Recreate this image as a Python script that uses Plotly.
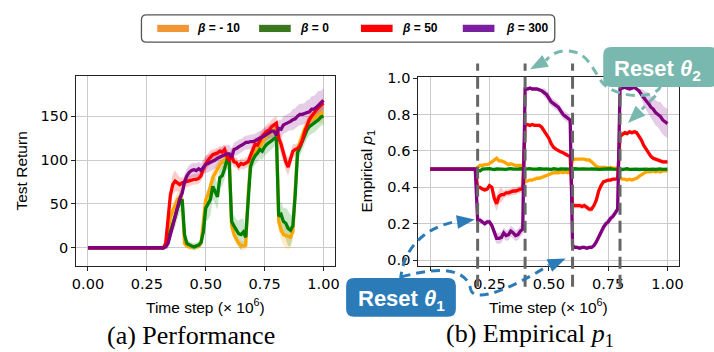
import plotly.graph_objects as go

# ---------------- data ----------------
steps = [i / 100 for i in range(101)]
tick_vals = [0.0, 0.25, 0.5, 0.75, 1.0]
tick_text = ["0.00", "0.25", "0.50", "0.75", "1.00"]
ret_ticks = [0, 50, 100, 150]
p_ticks = [0.0, 0.2, 0.4, 0.6, 0.8, 1.0]
p_tick_text = ["0.0", "0.2", "0.4", "0.6", "0.8", "1.0"]
reset_steps = [0.2, 0.4, 0.6, 0.8]
labels = ["β = - 10", "β = 0", "β = 50", "β = 300"]

ret_orange = [0] * 30 + [
    0, 0, 0, 3, 20, 35, 42, 48, 55, 58,
    55, 5, 2, 1, 1, 1, 1, 2, 5, 30,
    55, 60, 70, 80, 85, 90, 95, 98, 100, 104,
    100, 25, 15, 10, 5, 3, 2, 3, 60, 95,
    105, 110, 112, 115, 120, 125, 128, 130, 132, 135,
    136, 30, 20, 15, 14, 12, 12, 18, 60, 112,
    120, 128, 135, 140, 144, 146, 148, 150, 152, 154,
    155]
ret_green = [0] * 30 + [
    0, 0, 0, 2, 10, 20, 28, 35, 45, 52,
    55, 15, 5, 3, 2, 1, 2, 3, 6, 18,
    45, 50, 55, 70, 65, 58, 80, 82, 90, 100,
    98, 30, 25, 20, 16, 15, 18, 12, 60, 92,
    100, 105, 108, 112, 110, 115, 118, 120, 122, 125,
    126, 36, 38, 30, 28, 22, 20, 25, 60, 108,
    115, 120, 128, 134, 138, 140, 141, 143, 146, 149,
    150]
ret_red = [0] * 30 + [
    0, 0, 0, 5, 35, 60, 72, 76, 74, 72,
    74, 75, 75, 76, 77, 78, 78, 79, 82, 90,
    96, 100, 103, 106, 107, 108, 110, 109, 112, 104,
    100, 105, 98, 97, 93, 96, 95, 97, 98, 105,
    112, 118, 117, 122, 127, 130, 133, 134, 138, 140,
    142, 125, 118, 108, 98, 92, 100, 110, 112, 113,
    116, 122, 132, 140, 146, 150, 154, 157, 160, 162,
    165]
ret_purple = [0] * 30 + [
    0, 0, 0, 1, 5, 15, 25, 35, 48, 56,
    62, 75, 82, 86, 88, 89, 88, 90, 88, 92,
    95, 96, 97, 99, 100, 102, 103, 105, 106, 107,
    107, 103, 112, 113, 115, 116, 118, 120, 120, 121,
    121, 122, 124, 125, 126, 128, 130, 132, 133, 133,
    128, 136, 135, 140, 141, 143, 144, 146, 147, 150,
    152, 152, 153, 154, 155, 158, 158, 160, 163, 165,
    168]

sd_orange = [0] * 30 + [
    0, 0, 0, 2, 6, 8, 8, 8, 8, 8,
    8, 4, 3, 3, 3, 3, 3, 3, 4, 8,
    8, 8, 8, 8, 8, 8, 8, 8, 8, 8,
    8, 6, 6, 6, 5, 5, 5, 5, 8, 8,
    8, 8, 8, 8, 8, 8, 8, 8, 8, 8,
    8, 10, 10, 12, 14, 14, 12, 10, 10, 8,
    8, 8, 8, 8, 8, 8, 8, 8, 10, 12,
    12]
sd_green = [0] * 30 + [
    0, 0, 0, 2, 8, 10, 10, 12, 12, 12,
    12, 6, 4, 4, 4, 4, 4, 4, 5, 10,
    15, 18, 18, 15, 15, 15, 12, 12, 12, 10,
    10, 10, 12, 12, 15, 18, 15, 10, 10, 10,
    10, 10, 10, 10, 10, 10, 10, 10, 10, 10,
    10, 12, 15, 15, 18, 20, 18, 12, 12, 10,
    10, 10, 10, 10, 10, 10, 10, 10, 10, 10,
    10]
sd_red = [0] * 30 + [
    0, 0, 0, 3, 8, 10, 12, 12, 10, 8,
    6, 6, 6, 6, 6, 6, 6, 6, 6, 8,
    8, 8, 8, 6, 6, 6, 6, 6, 6, 8,
    8, 8, 6, 6, 6, 6, 6, 6, 6, 8,
    8, 8, 8, 8, 8, 8, 8, 8, 8, 8,
    8, 10, 10, 10, 10, 10, 8, 8, 6, 6,
    6, 6, 6, 6, 6, 6, 6, 6, 6, 6,
    6]
sd_purple = [0] * 30 + [
    0, 0, 0, 2, 6, 8, 8, 8, 8, 8,
    8, 8, 8, 8, 8, 8, 8, 8, 8, 8,
    10, 10, 10, 10, 10, 10, 10, 10, 10, 10,
    10, 10, 8, 8, 8, 8, 8, 8, 8, 8,
    8, 8, 8, 8, 8, 8, 8, 8, 8, 8,
    8, 10, 10, 10, 10, 10, 10, 12, 12, 12,
    12, 12, 12, 14, 14, 15, 15, 16, 16, 14,
    14]

p_orange = [0.5] * 20 + [
    0.51, 0.52, 0.52, 0.525, 0.525, 0.53, 0.54, 0.55, 0.56, 0.545,
    0.545, 0.54, 0.53, 0.525, 0.53, 0.525, 0.52, 0.52, 0.52, 0.52,
    0.43, 0.435, 0.44, 0.44, 0.445, 0.45, 0.45, 0.455, 0.46, 0.465,
    0.47, 0.475, 0.48, 0.48, 0.48, 0.485, 0.48, 0.485, 0.48, 0.485,
    0.55, 0.555, 0.555, 0.555, 0.555, 0.555, 0.55, 0.55, 0.54, 0.525,
    0.515, 0.51, 0.51, 0.51, 0.51, 0.505, 0.51, 0.505, 0.505, 0.505,
    0.45, 0.445, 0.445, 0.44, 0.445, 0.44, 0.445, 0.45, 0.46, 0.47,
    0.48, 0.485, 0.485, 0.485, 0.49, 0.485, 0.49, 0.485, 0.49, 0.49,
    0.49]
p_green = [
    0.5, 0.501, 0.5, 0.499, 0.5, 0.5, 0.501, 0.5, 0.499, 0.5,
    0.5, 0.5, 0.501, 0.5, 0.5, 0.499, 0.5, 0.501, 0.5, 0.5,
    0.495, 0.49, 0.5, 0.502, 0.5, 0.503, 0.5, 0.498, 0.501, 0.5,
    0.502, 0.5, 0.499, 0.501, 0.503, 0.5, 0.498, 0.5, 0.502, 0.5,
    0.5, 0.501, 0.503, 0.5, 0.498, 0.5, 0.502, 0.499, 0.5, 0.501,
    0.5, 0.498, 0.502, 0.5, 0.499, 0.501, 0.5, 0.503, 0.5, 0.499,
    0.5, 0.502, 0.499, 0.5, 0.501, 0.5, 0.498, 0.5, 0.501, 0.502,
    0.5, 0.499, 0.5, 0.501, 0.498, 0.5, 0.502, 0.5, 0.499, 0.5,
    0.501, 0.498, 0.5, 0.502, 0.499, 0.5, 0.501, 0.5, 0.498, 0.5,
    0.502, 0.5, 0.499, 0.501, 0.5, 0.498, 0.5, 0.501, 0.499, 0.5,
    0.5]
p_red = [0.5] * 20 + [
    0.40, 0.40, 0.39, 0.385, 0.39, 0.41, 0.40, 0.34, 0.31, 0.35,
    0.36, 0.36, 0.37, 0.37, 0.375, 0.38, 0.38, 0.385, 0.39, 0.39,
    0.74, 0.745, 0.74, 0.745, 0.74, 0.74, 0.74, 0.73, 0.71, 0.69,
    0.67, 0.64, 0.62, 0.61, 0.60, 0.595, 0.59, 0.58, 0.575, 0.57,
    0.30, 0.30, 0.30, 0.30, 0.295, 0.30, 0.29, 0.28, 0.28, 0.30,
    0.33, 0.38, 0.41, 0.43, 0.435, 0.44, 0.44, 0.445, 0.445, 0.45,
    0.68, 0.69, 0.70, 0.695, 0.705, 0.70, 0.705, 0.70, 0.68, 0.66,
    0.63, 0.61, 0.59, 0.57, 0.56, 0.555, 0.55, 0.545, 0.54, 0.54,
    0.54]
p_purple = [
    0.5, 0.5, 0.499, 0.5, 0.501, 0.5, 0.5, 0.499, 0.5, 0.5,
    0.501, 0.5, 0.5, 0.499, 0.5, 0.5, 0.501, 0.5, 0.5, 0.5,
    0.22, 0.22, 0.21, 0.20, 0.21, 0.21, 0.19, 0.15, 0.12, 0.12,
    0.125, 0.15, 0.135, 0.14, 0.16, 0.15, 0.135, 0.14, 0.16, 0.17,
    0.94, 0.94, 0.945, 0.94, 0.94, 0.94, 0.935, 0.93, 0.92, 0.91,
    0.89, 0.87, 0.86, 0.85, 0.84, 0.82, 0.80, 0.79, 0.78, 0.77,
    0.08, 0.07, 0.07, 0.065, 0.07, 0.07, 0.065, 0.07, 0.07, 0.08,
    0.10, 0.13, 0.15, 0.18, 0.20, 0.21, 0.23, 0.24, 0.26, 0.28,
    0.94, 0.945, 0.95, 0.945, 0.94, 0.945, 0.95, 0.94, 0.93, 0.91,
    0.89, 0.875, 0.86, 0.84, 0.83, 0.81, 0.80, 0.79, 0.77, 0.76,
    0.75]

psd_orange = [0.003] * 20 + [0.008] * 20 + [0.006] * 20 + [0.006] * 20 + [0.006] * 21
psd_green = [0.002] * 20 + [0.004] * 81
psd_red = [0.003] * 20 + [0.01] * 7 + [0.04] * 4 + [0.02] * 9 + [0.01] * 20 + [0.015] * 9 + [0.01] * 11 + [0.012] * 21
psd_purple = ([0.004] * 20 + [0.015] * 7 + [0.03] * 13 + [0.008] * 8 + [0.025] * 12 + [0.01] * 10
              + [0.02] * 10 + [0.01] * 9 + [0.03, 0.04, 0.05, 0.06, 0.06, 0.07, 0.07, 0.07, 0.08, 0.08, 0.08, 0.08])

# ---------------- style ----------------
W, H = 714, 352
line_colors = ["#FFA500", "#008000", "#FF0000", "#800080"]
band_colors = ["rgba(255,165,0,0.22)", "rgba(0,128,0,0.2)", "rgba(255,0,0,0.2)", "rgba(128,0,128,0.2)"]
legend_colors = ["#F29535", "#3A771F", "#FF0000", "#7B1FA0"]
BLUE = "#2B7BB9"
TEAL = "#78B8AE"


def fx(x):
    return x / W


def fy(y):
    return 1 - y / H


def path(cmds):
    out = []
    for c in cmds:
        if isinstance(c, str):
            out.append(c)
        else:
            out.append(f"{fx(c[0]):.5f},{fy(c[1]):.5f}")
    return " ".join(out)


def arrow_head(tip, frm, length=18, half=7):
    dx, dy = tip[0] - frm[0], tip[1] - frm[1]
    n = (dx * dx + dy * dy) ** 0.5
    ux, uy = dx / n, dy / n
    bx, by = tip[0] - ux * length, tip[1] - uy * length
    p1 = (bx - uy * half, by + ux * half)
    p2 = (bx + uy * half, by - ux * half)
    return path(["M", tip, "L", p1, "L", p2, "Z"])


def rounded(x0, y0, x1, y1, r):
    return path(["M", (x0 + r, y0), "L", (x1 - r, y0), "Q", (x1, y0), (x1, y0 + r),
                 "L", (x1, y1 - r), "Q", (x1, y1), (x1 - r, y1),
                 "L", (x0 + r, y1), "Q", (x0, y1), (x0, y1 - r),
                 "L", (x0, y0 + r), "Q", (x0, y0), (x0 + r, y0), "Z"])


fig = go.Figure()

series_ret = [ret_orange, ret_green, ret_red, ret_purple]
series_sd = [sd_orange, sd_green, sd_red, sd_purple]
series_p = [p_orange, p_green, p_red, p_purple]
series_psd = [psd_orange, psd_green, psd_red, psd_purple]

for k in range(4):
    up = [v + s for v, s in zip(series_ret[k], series_sd[k])]
    lo = [v - s for v, s in zip(series_ret[k], series_sd[k])]
    fig.add_trace(go.Scatter(x=steps + steps[::-1], y=up + lo[::-1], fill="toself",
                             fillcolor=band_colors[k], line=dict(width=0), mode="lines",
                             xaxis="x", yaxis="y", hoverinfo="skip"))
    up = [v + s for v, s in zip(series_p[k], series_psd[k])]
    lo = [v - s for v, s in zip(series_p[k], series_psd[k])]
    fig.add_trace(go.Scatter(x=steps + steps[::-1], y=up + lo[::-1], fill="toself",
                             fillcolor=band_colors[k], line=dict(width=0), mode="lines",
                             xaxis="x2", yaxis="y2", hoverinfo="skip"))
for k in range(4):
    fig.add_trace(go.Scatter(x=steps, y=series_ret[k], mode="lines",
                             line=dict(color=line_colors[k], width=3.3), xaxis="x", yaxis="y"))
    fig.add_trace(go.Scatter(x=steps, y=series_p[k], mode="lines",
                             line=dict(color=line_colors[k], width=3.3), xaxis="x2", yaxis="y2"))

tickfont = dict(family="DejaVu Sans", size=14.5, color="black")
axis_common = dict(showline=True, mirror=True, linecolor="#222", linewidth=1, ticks="outside",
                   ticklen=4, tickwidth=1, tickcolor="#222", showgrid=True, gridcolor="#cbcbcb",
                   gridwidth=1, zeroline=False, tickfont=tickfont)

fig.update_layout(
    width=W, height=H, margin=dict(l=0, r=0, t=0, b=0),
    paper_bgcolor="white", plot_bgcolor="white", showlegend=False, hovermode=False,
    xaxis=dict(domain=[fx(73), fx(335)], range=[-0.05, 1.05], tickvals=tick_vals, ticktext=tick_text,
               anchor="y", **axis_common),
    yaxis=dict(domain=[fy(266), fy(71)], range=[-21, 195.5], tickvals=ret_ticks, anchor="x", **axis_common),
    xaxis2=dict(domain=[fx(419), fx(683)], range=[-0.05, 1.05], tickvals=tick_vals, ticktext=tick_text,
                anchor="y2", **axis_common),
    yaxis2=dict(domain=[fy(266), fy(72)], range=[-0.033, 1.005], tickvals=p_ticks, ticktext=p_tick_text,
                anchor="x2", **axis_common),
)

shapes = []
# legend box
shapes.append(dict(type="path", xref="paper", yref="paper", path=rounded(139, 8, 557, 36, 5),
                   line=dict(color="#555", width=1.3), fillcolor="white", layer="above"))
sw_x = [155, 258, 361, 464]
for k in range(4):
    shapes.append(dict(type="rect", xref="paper", yref="paper", x0=fx(sw_x[k]), x1=fx(sw_x[k] + 32),
                       y0=fy(25.7), y1=fy(18.3), fillcolor=legend_colors[k], line=dict(width=0), layer="above"))
# dashed reset lines
for s in reset_steps:
    shapes.append(dict(type="line", xref="x2", yref="paper", x0=s, x1=s, y0=fy(287), y1=fy(58),
                       line=dict(color="#666", width=3, dash="12px,6px"), layer="above"))
# blue dashed arrows
shapes.append(dict(type="path", xref="paper", yref="paper",
                   path=path(["M", (401, 281), "C", (403, 248), (425, 226), (458, 220)]),
                   line=dict(color=BLUE, width=3, dash="9px,6px"), layer="above"))
shapes.append(dict(type="path", xref="paper", yref="paper", fillcolor=BLUE, line=dict(width=0),
                   path=arrow_head((476, 218), (456, 221)), layer="above"))
shapes.append(dict(type="path", xref="paper", yref="paper",
                   path=path(["M", (402, 277), "C", (440, 266), (468, 268), (472, 290),
                              "C", (476, 305), (515, 288), (551, 265)]),
                   line=dict(color=BLUE, width=3, dash="9px,6px"), layer="above"))
shapes.append(dict(type="path", xref="paper", yref="paper", fillcolor=BLUE, line=dict(width=0),
                   path=arrow_head((568, 258), (550, 266)), layer="above"))
# teal dashed arrows
shapes.append(dict(type="path", xref="paper", yref="paper",
                   path=path(["M", (664, 80), "C", (662, 96), (616, 94), (604, 76),
                              "C", (592, 58), (588, 44), (566, 45), "C", (556, 46), (550, 52), (548, 55)]),
                   line=dict(color=TEAL, width=3, dash="9px,6px"), layer="above"))
shapes.append(dict(type="path", xref="paper", yref="paper", fillcolor=TEAL, line=dict(width=0),
                   path=arrow_head((532, 64), (550, 54)), layer="above"))
shapes.append(dict(type="path", xref="paper", yref="paper",
                   path=path(["M", (659, 91), "L", (645, 105)]),
                   line=dict(color=TEAL, width=3, dash="9px,6px"), layer="above"))
shapes.append(dict(type="path", xref="paper", yref="paper", fillcolor=TEAL, line=dict(width=0),
                   path=arrow_head((631, 119), (650, 100)), layer="above"))
# reset boxes
shapes.append(dict(type="path", xref="paper", yref="paper", path=rounded(606, 41, 722, 82, 8),
                   fillcolor=TEAL, line=dict(width=0), layer="above"))
shapes.append(dict(type="path", xref="paper", yref="paper", path=rounded(346, 278, 457, 318, 8),
                   fillcolor=BLUE, line=dict(width=0), layer="above"))
fig.update_layout(shapes=shapes)

ann = []
txt_x = [193, 297, 400, 506]
for k in range(4):
    beta, rest = labels[k].split(" ", 1)
    ann.append(dict(x=fx(txt_x[k]), y=fy(22), xref="paper", yref="paper", xanchor="left", yanchor="middle",
                    text=f"<b><i>{beta}</i> {rest}</b>", showarrow=False,
                    font=dict(family="Liberation Sans", size=12, color="black")))
title_font = dict(family="Liberation Sans", size=15.5, color="black")
ann.append(dict(x=fx(204), y=fy(307), xref="paper", yref="paper", xanchor="center", yanchor="middle",
                text="Time step (× 10<sup>6</sup>)", showarrow=False, font=title_font))
ann.append(dict(x=fx(551), y=fy(307), xref="paper", yref="paper", xanchor="center", yanchor="middle",
                text="Time step (× 10<sup>6</sup>)", showarrow=False, font=title_font))
ann.append(dict(x=fx(18), y=fy(168), xref="paper", yref="paper", xanchor="center", yanchor="middle",
                text="Test Return", textangle=-90, showarrow=False, font=title_font))
ann.append(dict(x=fx(368), y=fy(168), xref="paper", yref="paper", xanchor="center", yanchor="middle",
                text="Empirical <i>p</i><sub>1</sub>", textangle=-90, showarrow=False, font=title_font))
cap_font = dict(family="Liberation Serif", size=26, color="black")
ann.append(dict(x=fx(189), y=fy(337), xref="paper", yref="paper", xanchor="center", yanchor="middle",
                text="(a) Performance", showarrow=False, font=cap_font))
ann.append(dict(x=fx(532), y=fy(337), xref="paper", yref="paper", xanchor="center", yanchor="middle",
                text="(b) Empirical <i>p</i><sub>1</sub>", showarrow=False, font=cap_font))
box_font = dict(family="Liberation Sans", size=22, color="white")
ann.append(dict(x=fx(615), y=fy(65), xref="paper", yref="paper", xanchor="left", yanchor="middle",
                text="<b>Reset <i>θ</i><sub>2</sub></b>", showarrow=False, font=box_font))
ann.append(dict(x=fx(356), y=fy(301), xref="paper", yref="paper", xanchor="left", yanchor="middle",
                text="<b>Reset <i>θ</i><sub>1</sub></b>", showarrow=False, font=box_font))
fig.update_layout(annotations=ann)

fig.write_html("out.html")
